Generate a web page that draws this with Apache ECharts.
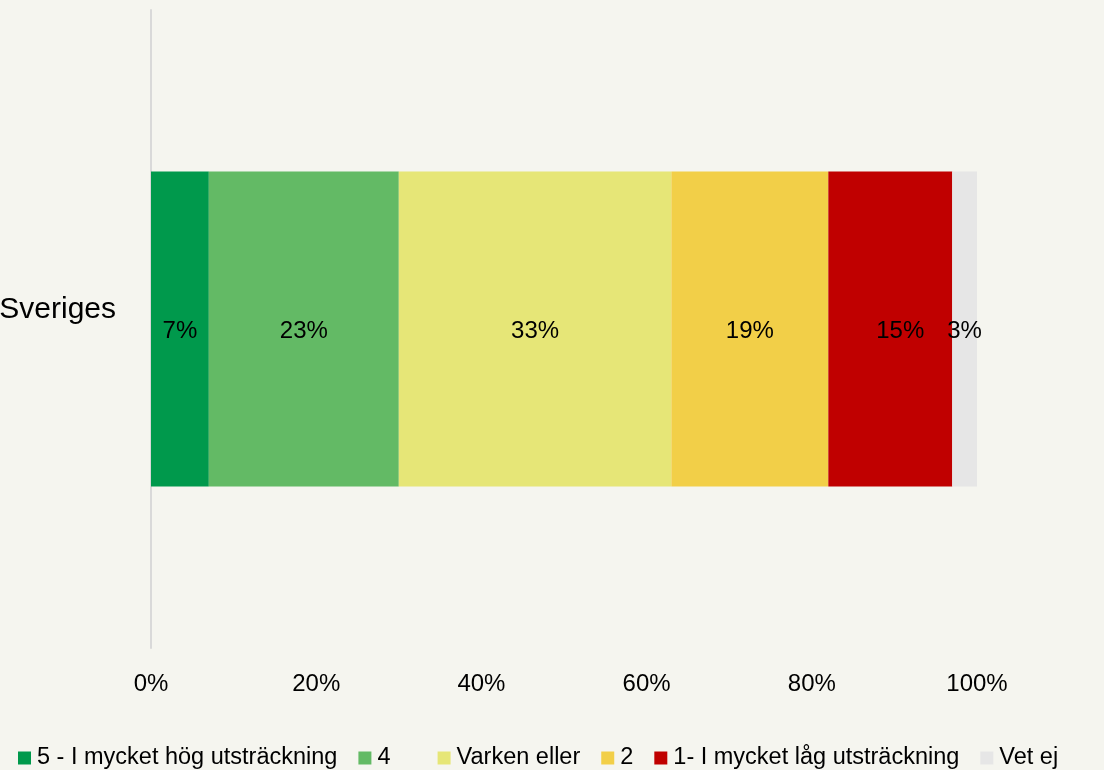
<!DOCTYPE html>
<html><head><meta charset="utf-8">
<script src="https://cdn.jsdelivr.net/npm/echarts@6/dist/echarts.min.js"></script>
<style>html,body{margin:0;padding:0;background:#f5f5ef;}#c{width:1104px;height:770px;}</style>
</head><body><div id="c"></div>
<script>
const categories = ['Sveriges'];
const seriesNames = ['5 - I mycket hög utsträckning', '4', 'Varken eller', '2', '1- I mycket låg utsträckning', 'Vet ej'];
const values = [[7], [23], [33], [19], [15], [3]];
const xTicks = [0, 20, 40, 60, 80, 100];
const colors = ['#00994c', '#63ba65', '#e6e677', '#f2cf48', '#c00000', '#e6e6e6'];
const FONT = 'Liberation Sans';

const chart = echarts.init(document.getElementById('c'));
chart.setOption({
  backgroundColor: '#f5f5ef',
  animation: false,
  textStyle: {fontFamily: FONT},
  grid: {left: 151, right: 127, top: 10, bottom: 122, containLabel: false, outerBoundsMode: 'none'},
  legend: {
    left: 18, top: 746, padding: 0, width: 1600, itemWidth: 13, itemHeight: 13, itemGap: 21,
    icon: 'rect',
    formatter: n => n === '4' ? n + '\u00a0\u00a0\u00a0\u00a0' : n,
    textStyle: {fontSize: 23.5, color: '#000', fontFamily: FONT, padding: [4, 0, 0, 1]},
    data: seriesNames
  },
  xAxis: {
    type: 'value', min: xTicks[0], max: xTicks[xTicks.length - 1], interval: 20,
    axisLine: {show: false}, axisTick: {show: false}, splitLine: {show: false},
    axisLabel: {formatter: '{value}%', fontSize: 24, color: '#000', margin: 24, fontFamily: FONT}
  },
  yAxis: {
    type: 'category', data: categories,
    axisLine: {show: true, lineStyle: {color: '#d9d9d9', width: 2}},
    axisTick: {show: false},
    axisLabel: {fontSize: 30, color: '#000', margin: 35, fontFamily: FONT, verticalAlign: 'bottom', lineHeight: 38}
  },
  series: seriesNames.map((name, i) => ({
    name, type: 'bar', stack: 'total', barWidth: 315,
    itemStyle: {color: colors[i]},
    label: {show: true, position: 'inside', formatter: '{c}%', fontSize: 24, color: '#000', fontFamily: FONT,
      offset: i === 4 ? [10, 2] : [0, 2]},
    data: values[i]
  }))
});
</script></body></html>
